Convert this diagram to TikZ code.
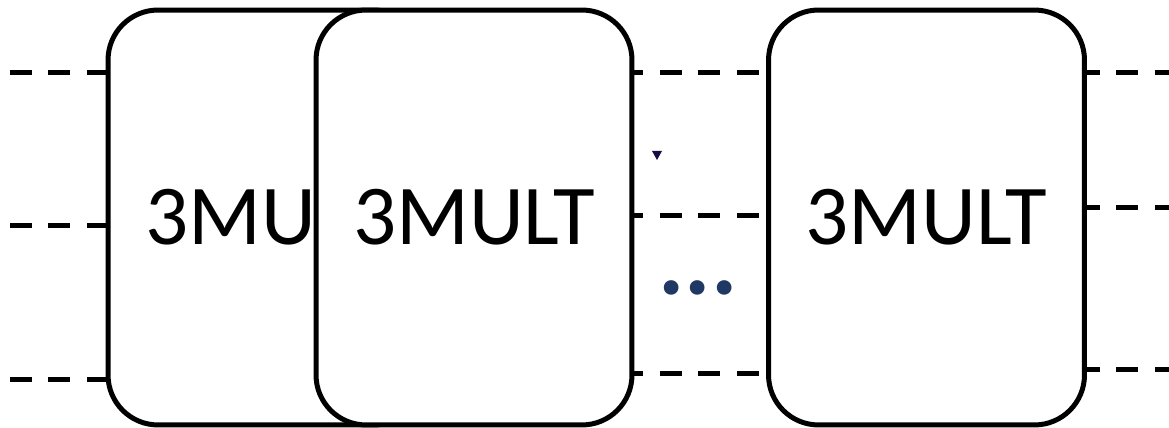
\documentclass[tikz,border=0pt]{standalone}
\usepackage{fontspec}
\setmainfont{Carlito}
\usepackage{tikz}
\usetikzlibrary{positioning,calc}
\definecolor{dNavy}{RGB}{31,56,100}
\definecolor{dInk}{RGB}{22,14,64}
\tikzset{
  mult/.style={rectangle, rounded corners=1cm, draw=black, fill=white,
               line width=0.1cm, minimum width=6.32cm, minimum height=8.3cm,
               inner sep=0pt, align=center,
               font=\fontsize{48.5}{56}\selectfont},
  wire/.style={draw=black, line width=0.1cm,
               dash pattern=on 0.44cm off 0.33cm},
  dotsl/.style={text=dNavy, inner sep=0pt,
                font=\fontsize{56}{60}\selectfont\bfseries},
}

\begin{document}
\begin{tikzpicture}[x=0.02cm, y=-0.02cm]
  \useasboundingbox (0,0) rectangle (1169,428);

  % free ends of the wires
  \coordinate (in1) at (10,73);
  \coordinate (in2) at (10,226);
  \coordinate (in3) at (10,380);
  \coordinate (m2) at (700,216);
  \coordinate (m3) at (700,374);
  \coordinate (out1) at (1169,73);
  \coordinate (out2) at (1169,208);
  \coordinate (out3) at (1169,370);

  % the first two blocks overlap, the second one sits on top
  \node[mult] (mulA) at (266,217.5) {3MULT};
  \node[mult] (mulB) at (474,217.5) {3MULT};
  \node[mult] (mulC) at (926.5,217.5) {3MULT};

  % inputs
  \foreach \i in {1,2,3}
    \draw[wire] (in\i) -- (in\i -| mulA.west);

  % between the chained blocks
  \draw[wire, dash phase=0.26cm] (mulB.east |- in1) -- (mulC.west |- in1);
  \draw[wire, dash phase=0.26cm] (mulB.east |- m2) -- (mulC.west |- m2);
  \draw[wire, dash phase=0.26cm] (mulB.east |- m3) -- (mulC.west |- m3);

  % outputs
  \foreach \i in {1,2,3}
    \draw[wire, dash phase=0.18cm] (mulC.east |- out\i) -- (out\i);

  \node[dotsl] (gap) at (698,288) {...};
  \fill[dInk] (652,151) -- (662,151) -- (657,160) -- cycle;
\end{tikzpicture}
\end{document}
